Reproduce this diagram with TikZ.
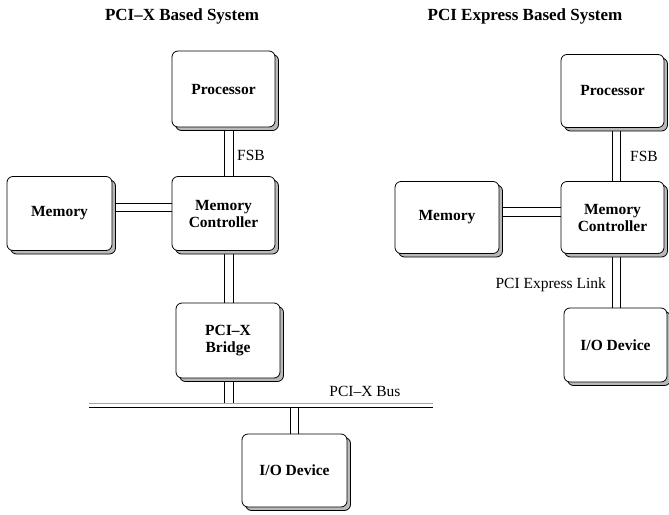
\documentclass[tikz,border=0pt]{standalone}
\usepackage{fontspec}
\setmainfont{Liberation Serif}
\usetikzlibrary{shadows,backgrounds}
\begin{document}
\begin{tikzpicture}[x=1pt,y=-1pt,
  box/.style={draw=black, line width=0.8pt, fill=white, rounded corners=6pt, align=center, inner sep=0pt,
     font=\fontsize{15.5}{17}\selectfont\bfseries,
     general shadow={fill=gray!55, draw=black, line width=0.8pt, shadow xshift=3.5pt, shadow yshift=-3.5pt}},
  conn/.style={draw=black, line width=0.9pt},
  lbl/.style={font=\fontsize{15.5}{17}\selectfont, inner sep=0pt},
  ttl/.style={font=\fontsize{17}{19}\selectfont\bfseries, inner sep=0pt}]
\useasboundingbox (0,0) rectangle (669,514);

% titles
\node[ttl] (t1) at (182,16) {PCI--X Based System};
\node[ttl] (t2) at (525,16) {PCI Express Based System};

% left system
\node[box, minimum width=103pt, minimum height=76pt] (lproc) at (223.5,89) {Processor};
\node[box, minimum width=103pt, minimum height=74pt] (lmc) at (223.5,213.5) {Memory\\Controller};
\node[box, minimum width=105pt, minimum height=74pt] (lmem) at (59.5,213.5) {Memory};
\node[box, minimum width=104pt, minimum height=75pt] (lbr) at (228,340.5) {PCI--X\\Bridge};
\node[box, minimum width=105pt, minimum height=73pt] (lio) at (294.5,470.5) {I/O Device};

\coordinate (busTL) at (89,403.3);
\coordinate (busTR) at (433,403.3);
\coordinate (busBL) at (89,407.7);
\coordinate (busBR) at (433,407.7);
\draw[gray!70, line width=1.1pt] (busTL) -- (busTR);
\draw[black, line width=1pt] (busBL) -- (busBR);

\node[lbl, anchor=west] (lfsb) at (237,155) {FSB};
\node[lbl] (pbus) at (365,391) {PCI--X Bus};

% right system
\node[box, minimum width=103pt, minimum height=73pt] (rproc) at (612.5,91) {Processor};
\node[box, minimum width=103pt, minimum height=72pt] (rmc) at (612.5,217.5) {Memory\\Controller};
\node[box, minimum width=104pt, minimum height=72pt] (rmem) at (447,217.5) {Memory};
\node[box, minimum width=103pt, minimum height=74pt] (rio) at (615.5,345) {I/O Device};

\node[lbl, anchor=west] (rfsb) at (630,156) {FSB};
\node[lbl, anchor=east] (plink) at (606,285) {PCI Express Link};

% connectors (pairs of parallel lines)
\begin{scope}[on background layer]
\foreach \dx in {0.8,9.8} {
  \draw[conn] ([xshift=\dx pt]lproc.center) -- ([xshift=\dx pt]lproc.center |- lmc.center);
  \draw[conn] ([xshift=\dx pt]lmc.center) -- ([xshift=\dx pt]lmc.center |- lbr.center);
}
\foreach \dx in {-3.7,5.3} {
  \draw[conn] ([xshift=\dx pt]lbr.center) -- ([xshift=\dx pt]lbr.center |- busTL);
}
\foreach \dx in {-4.5,3.5} {
  \draw[conn] ([xshift=\dx pt]lio.center |- busBL) -- ([xshift=\dx pt]lio.center);
}
\foreach \dy in {10.2,1.8} {
  \draw[conn] ([yshift=\dy pt]lmem.center) -- ([yshift=\dy pt]lmem.center -| lmc.center);
}
\foreach \dx in {0.2,8.2} {
  \draw[conn] ([xshift=\dx pt]rproc.center) -- ([xshift=\dx pt]rproc.center |- rmc.center);
  \draw[conn] ([xshift=\dx pt]rmc.center) -- ([xshift=\dx pt]rmc.center |- rio.center);
}
\foreach \dy in {9.8,1.5} {
  \draw[conn] ([yshift=\dy pt]rmem.center) -- ([yshift=\dy pt]rmem.center -| rmc.center);
}
\end{scope}
\end{tikzpicture}
\end{document}
